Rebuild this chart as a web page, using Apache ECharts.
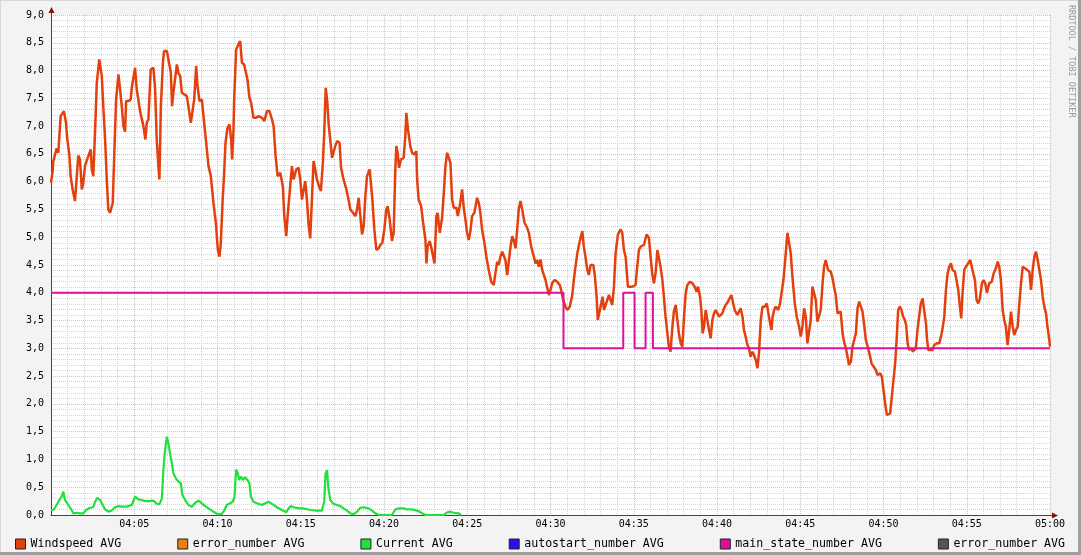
<!DOCTYPE html>
<html><head><meta charset="utf-8">
<script src="https://cdn.jsdelivr.net/npm/echarts@6/dist/echarts.min.js"></script>
<style>
html,body{margin:0;padding:0;background:#f3f3f3;}
#wrap{position:relative;width:1081px;height:555px;overflow:hidden;}
#chart{position:absolute;left:0;top:0;width:1081px;height:555px;}
.sh{position:absolute;pointer-events:none;}
</style></head><body>
<div id="wrap"><div id="chart"></div>
<div class="sh" style="left:0;top:0;width:1081px;height:1px;background:#d8d8d8"></div>
<div class="sh" style="left:0;top:0;width:1px;height:555px;background:#d8d8d8"></div>
<div class="sh" style="right:0;top:0;width:3px;height:555px;background:#a0a0a0"></div>
<div class="sh" style="left:0;bottom:0;width:1081px;height:3px;background:#a0a0a0"></div>
</div>
<script>
// ---- data (time in minutes after 04:00) ----
const xTickLabels = ['04:00','04:05','04:10','04:15','04:20','04:25','04:30','04:35','04:40','04:45','04:50','04:55','05:00'];
const legendNames = ['Windspeed AVG','error_number AVG#1','Current AVG','autostart_number AVG','main_state_number AVG','error_number AVG#2'];

const windT = [0.00,0.10,0.14,0.34,0.44,0.58,0.78,0.90,0.98,1.10,1.18,1.30,1.44,1.55,1.64,1.74,1.85,1.94,2.04,2.24,2.39,2.45,2.54,2.65,2.75,2.90,3.05,3.14,3.25,3.35,3.44,3.55,3.71,3.79,3.91,4.05,4.15,4.25,4.35,4.45,4.51,4.65,4.79,4.85,5.05,5.15,5.35,5.55,5.67,5.75,5.85,5.99,6.15,6.25,6.35,6.45,6.51,6.60,6.72,6.79,6.96,7.05,7.20,7.27,7.35,7.46,7.56,7.65,7.76,7.86,7.95,8.16,8.25,8.40,8.52,8.60,8.72,8.80,8.92,9.06,9.16,9.30,9.46,9.60,9.76,9.90,10.02,10.12,10.20,10.30,10.40,10.48,10.60,10.72,10.82,10.88,10.96,11.00,11.12,11.26,11.36,11.47,11.60,11.72,11.80,11.92,12.02,12.16,12.32,12.46,12.67,12.81,12.97,13.12,13.27,13.37,13.49,13.61,13.77,13.93,14.01,14.13,14.21,14.33,14.47,14.57,14.73,14.87,14.97,15.07,15.17,15.27,15.37,15.47,15.57,15.67,15.77,15.87,15.97,16.13,16.21,16.33,16.41,16.50,16.59,16.67,16.77,16.88,16.97,17.07,17.18,17.33,17.42,17.57,17.74,17.87,17.98,18.14,18.28,18.38,18.48,18.58,18.68,18.78,18.88,18.98,19.14,19.22,19.30,19.42,19.54,19.68,19.78,19.90,20.02,20.14,20.22,20.34,20.48,20.58,20.68,20.74,20.82,20.90,21.02,21.18,21.28,21.34,21.44,21.58,21.69,21.82,21.94,21.99,22.08,22.23,22.35,22.49,22.55,22.62,22.74,22.83,22.95,23.03,23.15,23.22,23.35,23.49,23.59,23.69,23.79,23.89,23.99,24.09,24.19,24.35,24.43,24.55,24.69,24.79,24.89,24.99,25.09,25.19,25.29,25.43,25.59,25.69,25.79,25.89,26.03,26.15,26.29,26.44,26.59,26.69,26.80,26.89,26.99,27.10,27.19,27.29,27.40,27.49,27.60,27.70,27.79,27.90,28.00,28.09,28.20,28.30,28.44,28.60,28.70,28.84,29.00,29.10,29.20,29.30,29.40,29.50,29.70,29.90,30.00,30.10,30.24,30.40,30.56,30.64,30.76,30.90,31.00,31.16,31.31,31.40,31.50,31.61,31.76,31.91,32.00,32.10,32.21,32.30,32.41,32.57,32.66,32.77,32.84,32.96,33.05,33.13,33.21,33.31,33.41,33.51,33.61,33.71,33.81,33.91,34.05,34.21,34.31,34.41,34.51,34.65,34.77,34.91,35.11,35.21,35.31,35.41,35.61,35.77,35.91,36.01,36.11,36.21,36.31,36.42,36.54,36.61,36.72,36.81,36.91,37.02,37.11,37.21,37.32,37.41,37.52,37.62,37.71,37.82,37.92,38.02,38.12,38.22,38.37,38.52,38.66,38.78,38.86,38.98,39.06,39.14,39.22,39.32,39.42,39.52,39.62,39.72,39.82,39.92,40.02,40.12,40.22,40.32,40.42,40.52,40.66,40.78,40.86,40.96,41.06,41.22,41.32,41.42,41.53,41.62,41.72,41.83,41.92,42.02,42.13,42.22,42.33,42.43,42.52,42.63,42.73,42.87,42.99,43.07,43.19,43.27,43.33,43.43,43.53,43.67,43.79,43.87,43.99,44.13,44.23,44.33,44.43,44.53,44.67,44.79,44.93,45.03,45.13,45.23,45.33,45.43,45.53,45.63,45.73,45.83,45.93,46.03,46.13,46.23,46.34,46.43,46.53,46.67,46.83,46.94,47.03,47.13,47.24,47.33,47.43,47.54,47.63,47.74,47.84,47.93,48.04,48.14,48.24,48.34,48.44,48.54,48.64,48.74,48.84,48.94,49.08,49.20,49.28,49.40,49.54,49.64,49.80,49.90,50.00,50.10,50.20,50.30,50.40,50.50,50.60,50.70,50.80,50.88,50.98,51.08,51.18,51.28,51.36,51.45,51.54,51.69,51.76,51.84,51.94,52.04,52.14,52.24,52.35,52.44,52.55,52.61,52.69,52.80,52.95,53.04,53.20,53.35,53.45,53.55,53.65,53.75,53.85,53.95,54.05,54.15,54.29,54.41,54.49,54.59,54.67,54.75,54.85,54.95,55.09,55.21,55.29,55.39,55.49,55.59,55.69,55.79,55.91,56.01,56.11,56.21,56.35,56.50,56.62,56.75,56.86,56.95,57.05,57.16,57.25,57.35,57.45,57.55,57.66,57.76,57.85,57.96,58.06,58.16,58.26,58.36,58.50,58.62,58.76,58.86,58.96,59.06,59.16,59.26,59.36,59.46,59.56,59.66,59.76,59.86,59.96,60.00];
const windV = [5.98,6.19,6.37,6.60,6.52,7.18,7.27,7.06,6.76,6.49,6.10,5.86,5.65,6.10,6.47,6.40,5.86,5.98,6.28,6.46,6.58,6.22,6.10,6.94,7.78,8.20,7.90,7.36,6.76,6.04,5.50,5.44,5.62,6.40,7.48,7.93,7.66,7.36,7.00,6.90,7.45,7.45,7.48,7.69,8.05,7.66,7.27,7.00,6.76,7.06,7.12,8.02,8.05,7.69,6.76,6.28,6.04,7.36,8.14,8.35,8.35,8.38,7.96,7.36,7.60,7.87,8.11,7.96,7.90,7.60,7.57,7.54,7.36,7.06,7.03,7.48,8.08,7.72,7.45,7.48,7.18,6.76,6.28,6.10,5.61,5.26,4.77,4.65,4.90,5.61,6.16,6.70,6.97,7.03,6.76,6.40,6.94,7.48,8.38,8.47,8.53,8.14,8.11,8.11,7.84,7.51,7.42,7.15,7.15,7.18,7.15,7.09,7.27,7.27,7.12,7.00,6.46,6.10,6.16,5.90,5.38,5.02,5.38,5.79,6.28,6.04,6.22,6.25,6.04,5.68,5.65,6.01,5.68,5.23,4.98,5.68,6.37,6.22,6.04,5.89,5.83,6.34,6.88,7.69,7.45,7.06,6.76,6.43,6.40,6.64,6.73,6.70,6.25,6.04,5.86,5.68,5.50,5.44,5.38,5.50,5.71,5.38,5.05,5.20,5.74,6.10,6.22,6.19,5.68,5.14,4.77,4.80,4.86,4.90,5.14,5.50,5.56,5.32,4.93,5.08,6.22,6.64,6.52,6.25,6.40,6.43,6.82,7.24,6.94,6.64,6.52,6.49,6.55,6.04,5.68,5.56,5.26,4.95,4.53,4.83,4.93,4.83,4.65,4.53,5.38,5.44,5.08,5.35,5.79,6.28,6.52,6.52,6.34,5.68,5.53,5.53,5.38,5.56,5.86,5.53,5.32,5.08,4.95,5.11,5.38,5.44,5.71,5.62,5.44,5.14,4.90,4.65,4.41,4.20,4.14,4.35,4.56,4.50,4.65,4.74,4.71,4.59,4.32,4.35,4.83,5.02,4.95,4.80,5.14,5.50,5.65,5.50,5.26,5.17,5.08,4.83,4.65,4.53,4.59,4.47,4.60,4.41,4.23,3.96,4.05,4.17,4.23,4.20,4.14,4.05,3.87,3.75,3.69,3.75,3.96,4.23,4.47,4.71,4.93,5.11,4.83,4.65,4.41,4.32,4.50,4.50,4.32,3.93,3.51,3.48,3.81,3.93,3.69,3.72,3.87,3.96,3.93,3.78,4.11,4.71,5.05,5.14,5.08,4.77,4.65,4.11,4.14,4.11,4.14,4.47,4.77,4.83,4.86,5.05,4.99,4.65,4.35,4.17,4.35,4.77,4.74,4.47,4.23,3.93,3.57,3.27,3.03,2.94,3.39,3.66,3.78,3.51,3.27,3.09,3.03,3.57,3.99,4.14,4.20,4.17,4.11,4.02,4.11,3.93,3.69,3.27,3.39,3.69,3.72,3.33,3.18,3.51,3.63,3.69,3.63,3.57,3.54,3.63,3.72,3.78,3.84,3.81,3.96,3.96,3.69,3.60,3.57,3.72,3.57,3.33,3.21,3.06,3.00,2.85,2.94,2.88,2.79,2.64,2.91,3.51,3.75,3.75,3.81,3.66,3.45,3.33,3.54,3.69,3.75,3.69,3.81,3.84,4.23,4.71,5.08,5.05,4.71,4.29,3.81,3.57,3.39,3.21,3.39,3.72,3.57,3.09,3.06,3.51,4.11,4.14,3.87,3.48,3.51,3.69,4.17,4.47,4.59,4.41,4.38,4.26,4.11,3.96,3.63,3.66,3.66,3.27,3.12,3.00,2.85,2.70,2.76,3.03,3.15,3.27,3.72,3.84,3.84,3.66,3.42,3.15,3.00,2.85,2.73,2.70,2.61,2.52,2.55,2.49,2.25,2.01,1.80,1.77,1.83,2.13,2.43,2.73,3.21,3.69,3.75,3.69,3.57,3.51,3.42,3.09,2.97,3.00,2.94,2.91,3.00,3.33,3.57,3.81,3.90,3.69,3.45,3.18,2.97,2.94,2.97,3.06,3.09,3.09,3.21,3.36,3.57,4.05,4.35,4.47,4.53,4.41,4.38,4.35,4.05,3.75,3.54,4.00,4.41,4.47,4.53,4.59,4.56,4.35,4.23,3.87,3.81,3.90,4.17,4.23,4.17,4.00,4.17,4.20,4.35,4.44,4.56,4.47,4.23,3.69,3.51,3.39,3.06,3.33,3.66,3.39,3.24,3.33,3.39,3.81,4.17,4.47,4.44,4.41,4.38,4.05,4.41,4.65,4.74,4.59,4.41,4.23,3.93,3.75,3.63,3.36,3.15,3.03];

const currentT = [0.00,0.14,0.34,0.50,0.64,0.74,0.84,1.04,1.24,1.34,1.55,1.74,1.94,2.15,2.34,2.54,2.65,2.78,2.95,3.11,3.25,3.44,3.65,3.85,4.05,4.25,4.55,4.85,5.05,5.25,5.45,5.65,5.95,6.15,6.31,6.51,6.66,6.75,6.85,6.96,7.05,7.15,7.26,7.35,7.50,7.65,7.80,7.89,8.06,8.25,8.46,8.66,8.86,9.06,9.26,9.46,9.66,9.86,10.06,10.26,10.40,10.56,10.76,10.92,11.02,11.12,11.22,11.30,11.41,11.53,11.66,11.80,11.92,12.01,12.16,12.37,12.67,12.87,13.06,13.27,13.57,13.87,14.13,14.27,14.41,14.57,14.87,15.17,15.57,15.97,16.27,16.41,16.49,16.58,16.65,16.77,16.97,17.18,17.38,17.57,17.78,17.98,18.17,18.38,18.58,18.78,19.08,19.28,19.48,19.68,20.48,20.68,20.88,21.18,21.39,21.69,21.99,22.29,22.49,23.59,23.75,23.95,24.19,24.49,24.63];
const currentV = [0.09,0.09,0.18,0.27,0.33,0.42,0.27,0.18,0.09,0.03,0.04,0.03,0.03,0.10,0.13,0.14,0.24,0.31,0.27,0.18,0.10,0.06,0.08,0.14,0.16,0.15,0.15,0.18,0.33,0.28,0.27,0.25,0.25,0.26,0.21,0.19,0.30,0.81,1.17,1.41,1.29,1.11,0.93,0.75,0.66,0.60,0.57,0.36,0.27,0.18,0.15,0.22,0.26,0.21,0.16,0.12,0.08,0.04,0.01,0.02,0.08,0.18,0.21,0.24,0.33,0.82,0.75,0.63,0.69,0.63,0.68,0.63,0.57,0.33,0.24,0.21,0.18,0.21,0.24,0.20,0.14,0.09,0.05,0.12,0.16,0.14,0.12,0.12,0.09,0.08,0.08,0.24,0.75,0.81,0.51,0.27,0.20,0.18,0.16,0.12,0.08,0.03,0.01,0.06,0.13,0.14,0.12,0.08,0.03,0.00,0.00,0.10,0.12,0.12,0.10,0.10,0.08,0.03,0.00,0.00,0.04,0.06,0.04,0.03,0.00];

const stateT = [0.00,30.78,34.37,35.05,35.71,36.15,60.00];
const stateV = [4,3,4,3,4,3,3];

// ---- build ----
const zip = (t, v) => t.map((x, i) => [x, v[i]]);
const MONO = 'DejaVu Sans Mono';
const colors = ['#E2400E','#E8820C','#1FE03C','#2A10E8','#DE109E','#555555'];

const chart = echarts.init(document.getElementById('chart'), null, {renderer:'canvas'});
const gridLine = {color:'#efb4b4', type:[1,1], width:1};
const minorLine = {color:'#d6d6d6', type:[1,1], width:1};

chart.setOption({
  animation:false,
  backgroundColor:'#f3f3f3',
  grid:{left:51, right:31, top:15, bottom:40, show:true, backgroundColor:'#ffffff', borderWidth:0},
  legend:{
    left:15, top:536, right:0, padding:0, itemWidth:10, itemHeight:10, itemGap:56, icon:'rect',
    selectedMode:false,
    itemStyle:{borderColor:'#222', borderWidth:1},
    textStyle:{fontFamily:MONO, fontSize:11.6, color:'#000', lineHeight:16, verticalAlign:'middle'},
    formatter:(name)=> name.split('#')[0],
    data:legendNames
  },
  xAxis:{
    type:'value', min:0, max:60, interval:5,
    axisLine:{show:true, lineStyle:{color:'#444', width:1}},
    axisTick:{show:false},
    axisLabel:{fontFamily:MONO, fontSize:10, color:'#000', margin:4, showMinLabel:false,
      formatter:(v)=> xTickLabels[Math.round(v/5)] || ''},
    splitLine:{show:true, lineStyle:gridLine},
    minorTick:{show:false, splitNumber:5},
    minorSplitLine:{show:true, lineStyle:minorLine}
  },
  yAxis:{
    type:'value', min:0, max:9, interval:0.5,
    axisLine:{show:true, lineStyle:{color:'#444', width:1}},
    axisTick:{show:false},
    axisLabel:{fontFamily:MONO, fontSize:10, color:'#000', margin:7,
      formatter:(v)=> v.toFixed(1).replace('.', ',')},
    splitLine:{show:true, lineStyle:gridLine},
    minorTick:{show:false, splitNumber:5},
    minorSplitLine:{show:true, lineStyle:minorLine}
  },
  series:[
    {name:legendNames[0], type:'line', color:colors[0], data:zip(windT, windV), showSymbol:false, symbol:'none', lineStyle:{width:2.5, color:colors[0]}},
    {name:legendNames[1], type:'line', color:colors[1], data:[], showSymbol:false, symbol:'none'},
    {name:legendNames[2], type:'line', color:colors[2], data:zip(currentT, currentV), showSymbol:false, symbol:'none', lineStyle:{width:2.2, color:colors[2]}},
    {name:legendNames[3], type:'line', color:colors[3], data:[], showSymbol:false, symbol:'none'},
    {name:legendNames[4], type:'line', color:colors[4], data:zip(stateT, stateV), step:'end', showSymbol:false, symbol:'none', lineStyle:{width:2, color:colors[4]}},
    {name:legendNames[5], type:'line', color:colors[5], data:[], showSymbol:false, symbol:'none'}
  ]
});

// arrows and watermark
const tl = chart.convertToPixel({gridIndex:0}, [0, 9]);
const br = chart.convertToPixel({gridIndex:0}, [60, 0]);
const ax = Math.round(tl[0]) + 0.5, ay = Math.round(br[1]) + 0.5;
const arrowCol = '#8a1010';
chart.setOption({
  graphic:[
    {type:'line', shape:{x1:ax, y1:tl[1], x2:ax, y2:tl[1]-4}, style:{stroke:'#444', lineWidth:1}, z:10},
    {type:'polygon', shape:{points:[[ax-3, tl[1]-2],[ax+3, tl[1]-2],[ax, tl[1]-8]]}, style:{fill:arrowCol}, z:10},
    {type:'line', shape:{x1:br[0], y1:ay, x2:br[0]+4, y2:ay}, style:{stroke:'#444', lineWidth:1}, z:10},
    {type:'polygon', shape:{points:[[br[0]+2, ay-3],[br[0]+2, ay+3],[br[0]+8, ay]]}, style:{fill:arrowCol}, z:10},
    {type:'text', x:1076, y:5, rotation:-Math.PI/2, z:10,
      style:{text:'RRDTOOL / TOBI OETIKER', font:'8.5px "DejaVu Sans Mono"', fill:'#9a9a9a', textVerticalAlign:'top', verticalAlign:'top'}}
  ]
});
</script>
</body></html>
